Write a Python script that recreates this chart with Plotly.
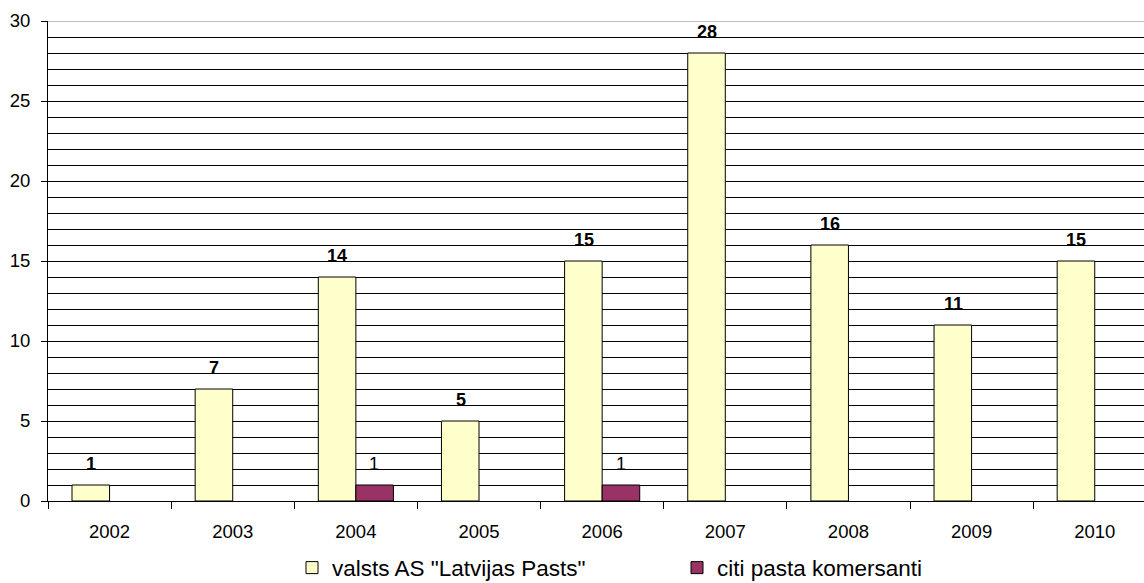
import plotly.graph_objects as go

years = ["2002", "2003", "2004", "2005", "2006", "2007", "2008", "2009", "2010"]
latvijas_pasts = [1, 7, 14, 5, 15, 28, 16, 11, 15]
citi = [None, None, 1, None, 1, None, None, None, None]

name1 = 'valsts AS "Latvijas Pasts"'
name2 = "citi pasta komersanti"

FONT = "Liberation Sans, Arial, sans-serif"

fig = go.Figure()
fig.add_trace(go.Bar(
    x=years, y=latvijas_pasts, name=name1,
    marker=dict(color="#FFFFCC", line=dict(color="black", width=1)),
))
fig.add_trace(go.Bar(
    x=years, y=citi, name=name2,
    marker=dict(color="#993366", line=dict(color="black", width=1)),
))

# value labels above bars (x given as category index)
half = 18.5  # half bar width in px (grouped offset)
for i, v in enumerate(latvijas_pasts):
    if v is not None:
        fig.add_annotation(x=i, y=v, xref="x", yref="y", text=f"<b>{v}</b>",
                           showarrow=False, xshift=-half, yshift=9, yanchor="bottom",
                           font=dict(size=18, color="black", family=FONT))
for i, v in enumerate(citi):
    if v is not None:
        fig.add_annotation(x=i, y=v, xref="x", yref="y", text=str(v),
                           showarrow=False, xshift=half, yshift=9, yanchor="bottom",
                           font=dict(size=18, color="black", family=FONT))

fig.update_layout(
    width=1144, height=583,
    margin=dict(l=48, r=0, t=21, b=82),
    paper_bgcolor="white", plot_bgcolor="white",
    font=dict(family=FONT, size=18, color="black"),
    barmode="group", bargap=0.39, bargroupgap=0,
    xaxis=dict(
        type="category", range=[-0.5, 8.4], automargin=False,
        showline=True, linecolor="black", linewidth=1,
        ticks="outside", tickson="boundaries", ticklen=7, tickcolor="black",
        showgrid=False, tickfont=dict(size=18.5), ticklabelstandoff=14,
    ),
    yaxis=dict(
        range=[0, 30], dtick=5, tick0=0, automargin=False,
        showline=True, linecolor="black", linewidth=1,
        ticks="outside", ticklen=6, tickcolor="black",
        showgrid=True, gridcolor="black", gridwidth=1,
        zeroline=False, tickfont=dict(size=18.5), ticklabelstandoff=7,
        minor=dict(dtick=1, showgrid=True, gridcolor="black", gridwidth=1, ticks=""),
    ),
    legend=dict(
        orientation="h", xref="container", yref="container",
        x=292 / 1144, xanchor="left", y=15 / 583, yanchor="middle",
        font=dict(size=22.5), entrywidth=340, itemwidth=30,
    ),
    showlegend=True,
)
fig.add_shape(type="line", xref="paper", yref="y", x0=0, x1=1, y0=30, y1=30,
              line=dict(color="#808080", width=1))

fig.write_html("out.html")
